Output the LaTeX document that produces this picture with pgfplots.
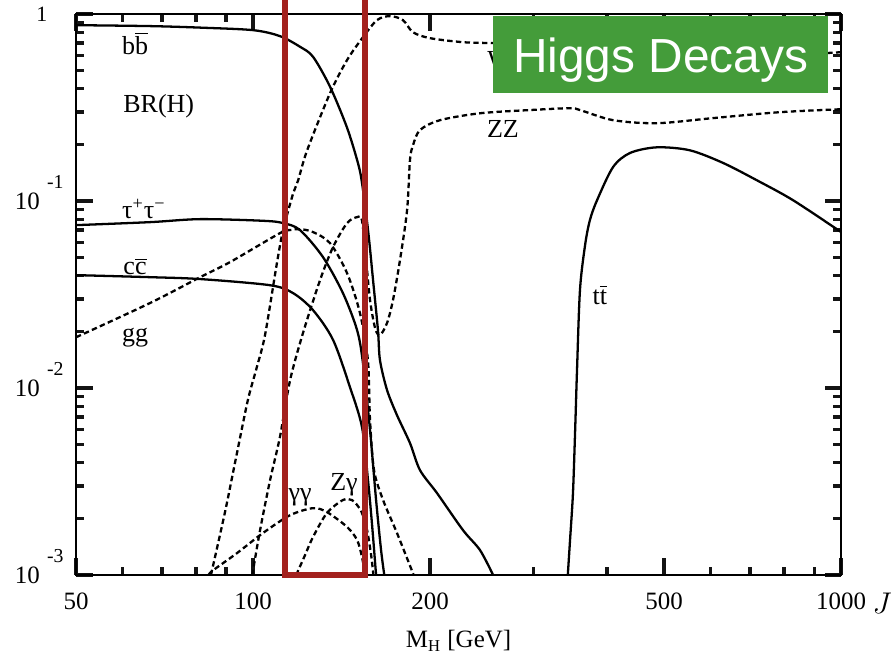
\documentclass[border=0pt]{standalone}
\usepackage{pgfplots}
\pgfplotsset{compat=1.18}
\usepackage{fontspec}
\setmainfont{Liberation Serif}
\newfontfamily\sansfont{Liberation Sans}
\definecolor{redbox}{RGB}{163,33,30}
\definecolor{higgsgreen}{RGB}{68,156,58}
\definecolor{tickblack}{RGB}{20,20,20}
\newcommand{\tenexp}[1]{10\hspace{3.5pt}\smash{\raisebox{10pt}{\fontsize{9.5}{9.5}\selectfont #1}}}
\pgfplotsset{
  sol/.style={black, line width=1.1pt, smooth, tension=0.5},
  das/.style={black, line width=1.1pt, dash pattern=on 2.6pt off 1.6pt, smooth, tension=0.5},
}
\begin{document}
\begin{tikzpicture}
\begin{axis}[
  at={(0,0)}, anchor=south west,
  xmode=log, ymode=log,
  scale only axis, width=368pt, height=269.8pt,
  xmin=50, xmax=1000, ymin=0.001, ymax=1,
  xtick={50,100,200,500,1000},
  xticklabels={50,100,200,500,1000},
  minor xtick={60,70,80,90,300,400,600,700,800,900},
  ytick={0.001,0.01,0.1,1},
  yticklabels={\tenexp{-3},\tenexp{-2},\tenexp{-1},{\raisebox{-2pt}{\makebox[13pt][l]{\fontsize{10.5}{10.5}\selectfont 1}}}},
  minor ytick={0.002,0.003,0.004,0.005,0.006,0.007,0.008,0.009,0.02,0.03,0.04,0.05,0.06,0.07,0.08,0.09,0.2,0.3,0.4,0.5,0.6,0.7,0.8,0.9},
  tick align=inside,
  major tick length=8pt, minor tick length=4pt,
  axis line style={line width=1.2pt},
  tick style={draw=tickblack, line width=1.6pt},
  tick label style={font=\fontsize{12}{12}\selectfont},
  xticklabel style={yshift=-5pt},
  yticklabel style={xshift=-2.5pt},
  xlabel={M\textsubscript{H} [GeV]},
  xlabel style={at={(axis description cs:0.5,0)}, anchor=base, yshift=-35pt, font=\fontsize{12}{12}\selectfont},
  clip=false,
]
% b bbar
\addplot[sol] coordinates {
(50,0.873) (66.8,0.863) (81.3,0.847) (100,0.821) (111.1,0.763) (120.2,0.669)
(126.5,0.591) (135.2,0.409) (144.3,0.250) (150.3,0.166) (153,0.129)
(156.9,0.0699) (160,0.0378) (163.1,0.0204) (164.4,0.0141) (169,0.00976)
(175.7,0.00717) (184.9,0.00508) (192.3,0.00364) (205.6,0.00274)
(227.5,0.00174) (243.2,0.00136) (256,0.001)};
% tau tau
\addplot[sol] coordinates {
(50,0.0744) (66.8,0.0772) (81.3,0.0801) (104,0.0785) (112.5,0.0763)
(120.2,0.07) (131.5,0.0502) (142.2,0.0322) (150.3,0.0204) (153.8,0.0136)
(158.1,0.00596) (161.9,0.00252) (165.1,0.00136) (167.2,0.001)};
% c cbar
\addplot[sol] coordinates {
(50,0.0402) (66.8,0.0392) (81.3,0.0383) (106.9,0.0355) (117,0.0322)
(126.5,0.0261) (136.8,0.0181) (146.2,0.0101) (153.2,0.00619)
(156.9,0.0032) (159.4,0.00185) (161.9,0.001)};
% g g
\addplot[das] coordinates {
(50,0.0187) (66.8,0.0285) (81.3,0.0392) (91.4,0.0472) (111.1,0.0674)
(115.6,0.07) (120.2,0.0708) (126.5,0.0683) (135.2,0.0596) (144.5,0.0412)
(152,0.0252) (156.8,0.0141) (158.1,0.00675) (160.6,0.00364)
(166.4,0.00252) (175.7,0.00168) (187.6,0.001)};
% gamma gamma
\addplot[das] coordinates {
(84,0.001) (85.5,0.00106) (93.9,0.00131) (104,0.00168) (115.6,0.00209)
(126.5,0.00228) (133.6,0.00217) (144.5,0.00181) (150.3,0.00154)
(153.2,0.00125) (155.2,0.001)};
% Z gamma
\addplot[das] coordinates {
(118.4,0.001) (122.6,0.00128) (126.5,0.0016)
(133.6,0.00215) (142.2,0.00252) (147.3,0.00252) (150.3,0.00237)
(153.2,0.00215) (156.3,0.00174) (158.8,0.00128) (160.2,0.001)};
% W W
\addplot[das] coordinates {
(84.8,0.001) (89.6,0.00217) (93.9,0.00449) (98,0.00863) (101.4,0.0128)
(104.8,0.0192) (109.8,0.0466) (112.5,0.07) (117,0.11) (119.3,0.129)
(123.6,0.187) (135.2,0.378) (144.5,0.568) (153.8,0.753) (162.5,0.929)
(171,0.976) (179.9,0.929) (187.1,0.80) (200,0.744) (227.5,0.708)
(256,0.70) (300,0.69) (350,0.69) (400,0.57) (450,0.55) (500,0.55)
(600,0.57) (800,0.60) (1000,0.626)};
% Z Z
\addplot[das] coordinates {
(99.7,0.001) (102.8,0.00174) (106.9,0.00322) (111.1,0.00547)
(115.6,0.011) (121.6,0.0197) (130,0.0378) (136.8,0.0568) (144.5,0.0763)
(150.3,0.0821) (153.2,0.0791) (155.7,0.0484) (158.1,0.0296) (161.3,0.0209)
(164.4,0.0192) (169,0.0223) (173,0.0296) (177.8,0.0484) (182.8,0.0895)
(184.9,0.166) (187.1,0.199) (192.3,0.24) (208,0.271) (243.2,0.295)
(296,0.307) (346,0.314) (359.7,0.307) (409.4,0.271) (486,0.261)
(606,0.278) (787,0.299) (1000,0.31)};
% t tbar
\addplot[sol] coordinates {
(343,0.001) (346,0.00154) (350,0.00274) (353,0.00596) (355.6,0.0125)
(359.7,0.0334) (367,0.0582) (374,0.0791) (384.6,0.101) (409.4,0.152)
(437.7,0.181) (486,0.194) (553,0.187) (630,0.16) (720,0.129)
(829,0.101) (1000,0.0683)};
% curve labels
\begin{scope}[every node/.style={font=\fontsize{12.5}{12.5}\selectfont, inner sep=0pt}]
\node at (axis cs:63,0.70) {b$\overline{\mbox{b}}$};
\node[anchor=west] at (axis cs:60.1,0.322) {BR(H)};
\node[anchor=west] at (axis cs:59.8,0.0906) {τ\textsuperscript{+}τ\textsuperscript{−}};
\node at (axis cs:63,0.0449) {c$\overline{\mbox{c}}$};
\node at (axis cs:63,0.0187) {gg};
\node at (axis cs:120.2,0.00261) {γγ};
\node at (axis cs:142.8,0.00303) {Zγ};
\node at (axis cs:266,0.243) {ZZ};
\node at (axis cs:389,0.0314) {t$\overline{\mbox{t}}$};
\end{scope}
% WW label: only its left edge shows beside the title box
\begin{scope}
\clip (axis cs:240,0.3) rectangle (axis cs:255.5,0.9);
\node[anchor=west, inner sep=0pt, font=\fontsize{12.5}{12.5}\selectfont] at (axis cs:250,0.568) {\makebox[4.5pt][l]{WW}};
\end{scope}
% red frame
\draw[redbox, line width=2.9pt] (axis cs:113.4,0.001) rectangle (axis cs:154.8,1.5);
% green title box
\fill[higgsgreen] (axis cs:256,0.378) rectangle (axis cs:950,0.976);
\node[anchor=base, text=white, inner sep=0pt, font=\sansfont\fontsize{23}{23}\selectfont] at (axis cs:493.2,0.4897) {Higgs Decays};
% cut-off text at the right edge
\node[anchor=base west, inner sep=0pt, font=\fontsize{14}{14}\selectfont] at (axis cs:1129,0.000626) {$J$};
\end{axis}
\pgfresetboundingbox
\useasboundingbox (-36.55pt,-38.96pt) rectangle (393.45pt,276.6pt);
\end{tikzpicture}
\end{document}
